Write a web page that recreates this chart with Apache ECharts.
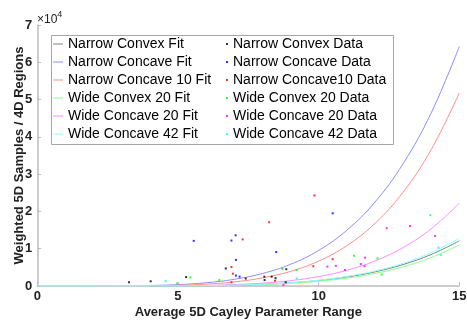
<!DOCTYPE html>
<html>
<head>
<meta charset="utf-8">
<script src="https://cdn.jsdelivr.net/npm/echarts@6/dist/echarts.min.js"></script>
<style>
  html, body { margin: 0; padding: 0; background: #fff; }
  #chart { width: 467px; height: 320px; }
</style>
</head>
<body>
<div id="chart"></div>
<script>
// Fitted curves, sampled at whole x values (y in raw units)
const fitX = [4, 5, 6, 7, 8, 9, 10, 11, 12, 13, 14, 15];
const fitX42 = [0, 1, 2, 3, 4, 5, 6, 7, 8, 9, 10, 11, 12, 13, 14, 15];
const narrowConvexFit   = [13, 40, 103, 230, 460, 850, 1469, 2412, 3793, 5750, 8452, 12100];
const narrowConcaveFit  = [129, 367, 865, 1786, 3347, 5818, 9547, 14940, 22490, 32770, 46420, 64200];
const narrowConcave10Fit = [65, 202, 507, 1103, 2166, 3925, 6682, 10810, 16780, 25140, 36560, 51800];
const wideConvex20Fit   = [10, 33, 86, 194, 393, 734, 1283, 2125, 3374, 5152, 7631, 11000];
const wideConcave20Fit  = [19, 62, 164, 374, 764, 1437, 2527, 4210, 6710, 10310, 15340, 22200];
const wideConcave42Fit  = [0, 0, 0, 3, 13, 42, 109, 243, 487, 899, 1554, 2551, 4013, 6083, 8941, 12800];

// Measured samples
const narrowConvexX = [3.26, 4.03, 5.29, 6.70, 7.41, 8.07, 8.08, 8.33, 8.47, 8.83, 8.85];
const narrowConvexY = [1000, 1260, 2400, 4700, 2000, 2500, 1600, 2500, 2100, 1000, 4500];
const narrowConcaveX = [5.56, 6.90, 7.05, 7.06, 7.06, 7.19, 8.49, 10.50];
const narrowConcaveY = [12100, 12200, 13600, 7000, 2800, 2500, 9100, 19500];
const narrowConcave10X = [6.90, 6.95, 6.90, 7.30, 8.24, 8.45, 9.81, 9.85, 10.50];
const narrowConcave10Y = [1000, 3300, 5100, 12500, 17100, 1400, 5300, 24300, 7200];
const wideConvex20X = [4.97, 5.44, 6.47, 8.71, 9.22, 11.26, 12.09, 12.24];
const wideConvex20Y = [700, 2300, 1600, 4600, 4300, 8100, 7400, 3100];
const wideConcave20X = [8.75, 10.31, 10.61, 10.94, 11.50, 11.63, 11.65, 12.42, 13.25, 14.14];
const wideConcave20Y = [300, 5200, 5400, 4300, 5900, 5300, 7600, 15500, 16100, 13400];
const wideConcave42X = [4.56, 9.22, 13.96, 14.26, 14.34];
const wideConcave42Y = [1300, 2000, 19000, 10300, 8300];

const yTickLabels = ['0', '1', '2', '3', '4', '5', '6', '7'];

const FONT = '"Liberation Sans", Arial, sans-serif';

const fitNames = ['Narrow Convex Fit', 'Narrow Concave Fit', 'Narrow Concave 10 Fit',
                  'Wide Convex 20 Fit', 'Wide Concave 20 Fit', 'Wide Concave 42 Fit'];
const dataNames = ['Narrow Convex Data', 'Narrow Concave Data', 'Narrow Concave10 Data',
                   'Wide Convex 20 Data', 'Wide Concave 20 Data', 'Wide Concave 42 Data'];
const fitColors = ['#808080', '#8c8cff', '#ff8c8c', '#8cff8c', '#ff8cff', '#8cffff'];
const dataColors = ['#000000', '#0000ff', '#ff0000', '#00ff00', '#ff00ff', '#00ffff'];

const fitSets = [
  [fitX, narrowConvexFit], [fitX, narrowConcaveFit], [fitX, narrowConcave10Fit],
  [fitX, wideConvex20Fit], [fitX, wideConcave20Fit], [fitX42, wideConcave42Fit]
];
const dataSets = [
  [narrowConvexX, narrowConvexY], [narrowConcaveX, narrowConcaveY],
  [narrowConcave10X, narrowConcave10Y], [wideConvex20X, wideConvex20Y],
  [wideConcave20X, wideConcave20Y], [wideConcave42X, wideConcave42Y]
];

const zip = (xs, ys) => xs.map((x, i) => [x, ys[i]]);

const series = [];
fitSets.forEach(([xs, ys], i) => {
  series.push({
    name: fitNames[i], type: 'line', data: zip(xs, ys),
    smooth: 0.4, showSymbol: false, symbol: 'none',
    lineStyle: { color: fitColors[i], width: 1 },
    itemStyle: { color: fitColors[i] },
    emphasis: { disabled: true }, silent: true, animation: false, z: 2
  });
});
dataSets.forEach(([xs, ys], i) => {
  series.push({
    name: dataNames[i], type: 'scatter', data: zip(xs, ys),
    symbol: 'rect', symbolSize: 2,
    itemStyle: { color: dataColors[i] },
    emphasis: { disabled: true }, silent: true, animation: false, z: 3
  });
});

const legendText = { fontSize: 14, color: '#000', fontFamily: FONT, lineHeight: 18 };

const chart = echarts.init(document.getElementById('chart'), null, { renderer: 'canvas' });
chart.setOption({
  animation: false,
  backgroundColor: '#fff',
  grid: { left: 37.3, right: 7.7, top: 25, bottom: 34, containLabel: false, outerBoundsMode: 'none' },
  xAxis: {
    type: 'value', min: 0, max: 15, interval: 5,
    name: 'Average 5D Cayley Parameter Range', nameLocation: 'middle', nameGap: 20,
    nameMoveOverlap: false,
    nameTextStyle: { fontSize: 13, fontWeight: 'bold', color: '#222', fontFamily: FONT },
    axisLine: { show: true, lineStyle: { color: '#bdbdbd', width: 1.5 } },
    axisTick: { show: true, inside: true, length: 4, lineStyle: { color: '#bdbdbd' } },
    axisLabel: { fontSize: 13, fontWeight: 'bold', color: '#222', fontFamily: FONT, margin: 4 },
    splitLine: { show: false }
  },
  yAxis: {
    type: 'value', min: 0, max: 70000, interval: 10000,
    name: 'Weighted 5D Samples / 4D Regions', nameLocation: 'middle', nameGap: 11,
    nameMoveOverlap: false,
    nameTextStyle: { fontSize: 13, fontWeight: 'bold', color: '#222', fontFamily: FONT },
    axisLine: { show: true, lineStyle: { color: '#bdbdbd', width: 1.5 } },
    axisTick: { show: true, inside: true, length: 4, lineStyle: { color: '#bdbdbd' } },
    axisLabel: {
      fontSize: 13, fontWeight: 'bold', color: '#222', fontFamily: FONT, margin: 5,
      formatter: v => yTickLabels[Math.round(v / 10000)]
    },
    splitLine: { show: false }
  },
  legend: [
    {
      data: fitNames, orient: 'vertical', left: 53, top: 35, padding: 0,
      icon: 'rect', itemWidth: 10, itemHeight: 1, itemGap: 0,
      textStyle: legendText, selectedMode: false, z: 5
    },
    {
      data: dataNames, orient: 'vertical', left: 226, top: 35, padding: 0,
      icon: 'rect', itemWidth: 2, itemHeight: 2, itemGap: 0,
      textStyle: legendText, selectedMode: false, z: 5
    }
  ],
  graphic: [
    {
      type: 'rect', left: 51, top: 35, z: 4,
      shape: { width: 342, height: 109 },
      style: { fill: '#fff', stroke: '#a6a6a6', lineWidth: 1 }
    },
    {
      type: 'text', left: 37, top: 10, z: 5,
      style: {
        text: '{b|\u00d710}{s|4}',
        rich: {
          b: { fontSize: 12, fontFamily: FONT, fill: '#222', verticalAlign: 'bottom', lineHeight: 16 },
          s: { fontSize: 9, fontFamily: FONT, fill: '#222', verticalAlign: 'top', lineHeight: 12 }
        }
      }
    }
  ],
  series: series
});
</script>
</body>
</html>
